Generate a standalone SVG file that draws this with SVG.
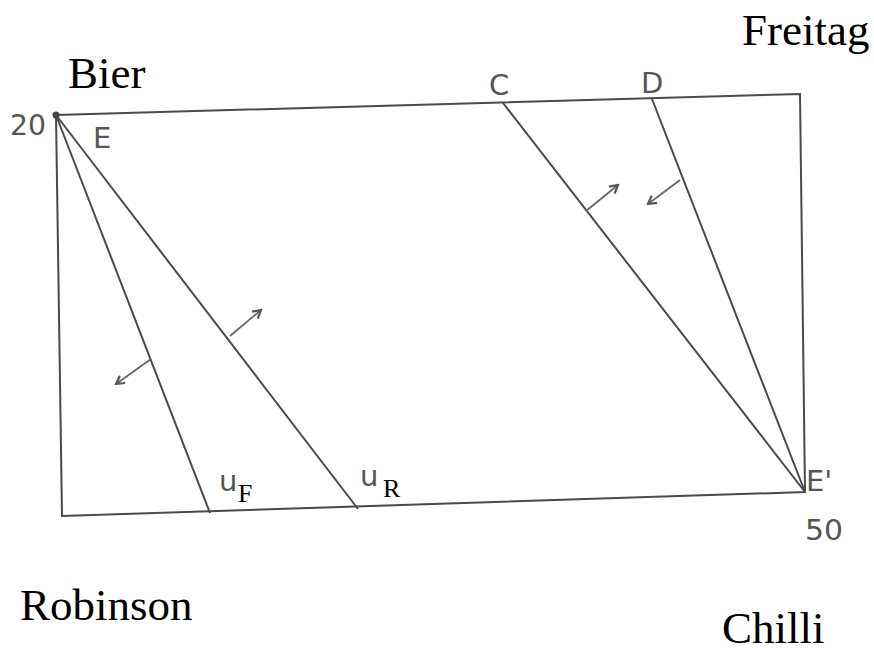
<svg xmlns="http://www.w3.org/2000/svg" width="874" height="653" viewBox="0 0 874 653">
<defs>
<marker id="ah" viewBox="0 0 12 12" refX="10" refY="6" markerWidth="12" markerHeight="12" orient="auto" markerUnits="userSpaceOnUse">
<path d="M2,1.5 L10,6 L2,10.5" fill="none" stroke="#555" stroke-width="2.2"/>
</marker>
<style>
.ln{stroke:#4a4a4a;stroke-width:2;fill:none}
.ar{stroke:#666;stroke-width:1.8;fill:none;marker-end:url(#ah)}
.big{font-family:"Liberation Serif",serif;font-size:45px;fill:#000}
.hw{font-family:"DejaVu Sans",sans-serif;font-size:29px;fill:#555}
.sub{font-family:"Liberation Serif",serif;font-size:26px;fill:#000}
</style>
</defs>
<rect width="874" height="653" fill="#fff"/>
<g id="connectors">
<polygon class="ln" points="56,115 800,94 805,492 62,516"/>
<line class="ln" x1="56" y1="115" x2="210" y2="513"/>
<line class="ln" x1="56" y1="115" x2="358" y2="509"/>
<line class="ln" x1="503" y1="103" x2="805" y2="492"/>
<line class="ln" x1="652" y1="99" x2="805" y2="492"/>
<line class="ar" x1="230" y1="336" x2="261" y2="310"/>
<line class="ar" x1="151" y1="359" x2="116" y2="384"/>
<line class="ar" x1="586" y1="211" x2="618" y2="185"/>
<line class="ar" x1="680" y1="180" x2="648" y2="204"/>
<circle cx="56" cy="115" r="3.5" fill="#444"/>
</g>
<g id="labels">
<text class="big" x="68" y="88">Bier</text>
<text class="big" x="742" y="45">Freitag</text>
<text class="big" x="20" y="620">Robinson</text>
<text class="big" x="722" y="643">Chilli</text>
<text class="hw" x="10" y="135" textLength="36" lengthAdjust="spacingAndGlyphs">20</text>
<text class="hw" x="93" y="148">E</text>
<text class="hw" x="489" y="95">C</text>
<text class="hw" x="641" y="93">D</text>
<text class="hw" x="806" y="491">E'</text>
<text class="hw" x="805" y="540" textLength="38" lengthAdjust="spacingAndGlyphs">50</text>
<text class="hw" x="219" y="491">u</text>
<text class="sub" x="238" y="502">F</text>
<text class="hw" x="360" y="486">u</text>
<text class="sub" x="383" y="497">R</text>
</g>
</svg>
